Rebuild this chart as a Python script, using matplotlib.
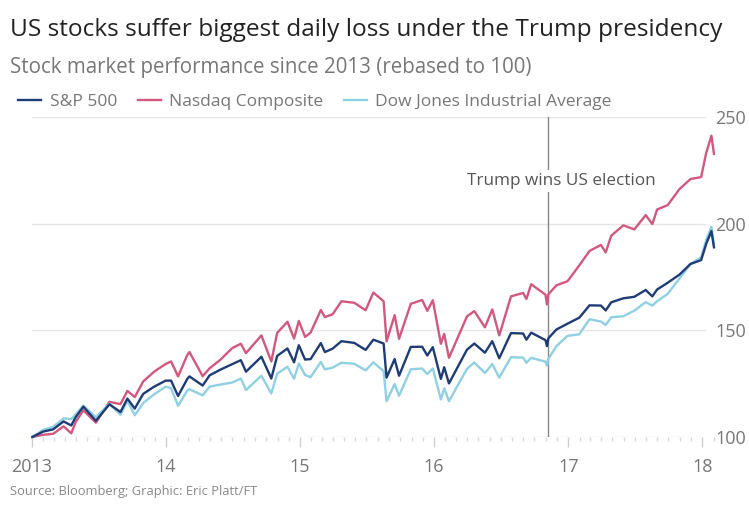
import matplotlib
matplotlib.use('Agg')
import matplotlib.pyplot as plt
import matplotlib.dates as mdates
import numpy as np
import pandas as pd

plt.rcParams['font.family'] = ['Open Sans', 'DejaVu Sans']

# rebased to 100 (2 Jan 2013)
dates = ['2013-01-02', '2013-01-31', '2013-02-28', '2013-03-28', '2013-04-18', '2013-04-30',
         '2013-05-21', '2013-06-24', '2013-07-31', '2013-08-30', '2013-09-18', '2013-10-08',
         '2013-10-31', '2013-11-29', '2013-12-31', '2014-01-15', '2014-02-03', '2014-02-28',
         '2014-03-06', '2014-04-11', '2014-04-30', '2014-05-30', '2014-06-30', '2014-07-24',
         '2014-08-07', '2014-09-18', '2014-10-15', '2014-10-31', '2014-11-28', '2014-12-16',
         '2014-12-29', '2015-01-15', '2015-01-30', '2015-02-27', '2015-03-10', '2015-03-31',
         '2015-04-24', '2015-05-29', '2015-06-29', '2015-07-20', '2015-08-17', '2015-08-25',
         '2015-09-16', '2015-09-28', '2015-10-30', '2015-11-30', '2015-12-14', '2015-12-29',
         '2016-01-20', '2016-01-29', '2016-02-11', '2016-03-31', '2016-04-20', '2016-05-19',
         '2016-06-08', '2016-06-27', '2016-07-29', '2016-08-31', '2016-09-09', '2016-09-22',
         '2016-10-31', '2016-11-04', '2016-11-08', '2016-11-30', '2016-12-30', '2017-01-31',
         '2017-02-28', '2017-03-31', '2017-04-13', '2017-04-28', '2017-05-31', '2017-06-30',
         '2017-07-31', '2017-08-18', '2017-08-31', '2017-09-29', '2017-10-31', '2017-11-30',
         '2017-12-29', '2018-01-12', '2018-01-26', '2018-02-02']

sp500 = [100, 102.5, 103.6, 107.3, 105.4, 109.3, 114.2, 107.6, 115.3, 111.7, 118.0, 113.3,
         120.2, 123.5, 126.4, 126.4, 119.2, 127.2, 128.4, 124.1, 128.9, 131.6, 134.1, 136.0,
         130.6, 137.6, 127.4, 138.0, 141.5, 135.0, 143.0, 136.3, 136.5, 144.0, 139.8, 141.4,
         144.9, 144.1, 140.8, 145.6, 143.8, 127.8, 136.5, 128.7, 142.2, 142.3, 138.2, 142.1,
         127.2, 132.7, 125.1, 140.9, 143.8, 139.5, 144.9, 136.9, 148.7, 148.5, 145.6, 148.9,
         145.4, 142.6, 146.3, 150.4, 153.1, 155.9, 161.7, 161.6, 159.3, 163.1, 165.0, 165.7,
         168.9, 165.9, 169.1, 172.3, 176.1, 181.1, 182.9, 190.6, 196.5, 188.9]

nasdaq = [100, 101.0, 101.5, 105.0, 101.7, 107.0, 112.5, 106.7, 116.5, 115.4, 121.6, 118.7,
          126.0, 130.5, 134.2, 135.4, 128.4, 138.4, 139.8, 128.5, 132.2, 136.3, 141.6, 143.7,
          139.3, 147.6, 135.4, 148.8, 154.0, 146.1, 154.4, 146.9, 148.9, 159.5, 156.2, 157.5,
          163.6, 162.9, 159.4, 167.7, 163.6, 144.8, 157.1, 146.0, 162.4, 164.2, 159.1, 164.1,
          143.7, 148.3, 137.1, 156.5, 159.0, 151.4, 159.8, 147.6, 165.9, 167.5, 164.7, 171.6,
          166.7, 162.1, 166.9, 171.1, 173.0, 180.4, 187.2, 190.0, 186.5, 194.3, 199.2, 197.3,
          204.0, 199.8, 206.6, 208.7, 216.2, 220.9, 221.8, 233.3, 241.2, 232.7]

dow = [100, 103.3, 104.8, 108.7, 108.4, 110.6, 114.7, 109.3, 115.6, 110.4, 116.9, 110.2,
       115.9, 119.9, 123.6, 122.9, 114.6, 121.7, 122.4, 119.5, 123.6, 124.6, 125.5, 127.4,
       122.0, 128.7, 120.4, 129.7, 132.9, 127.3, 134.5, 129.1, 128.0, 135.2, 131.7, 132.5,
       134.8, 134.3, 131.2, 135.0, 130.8, 116.8, 124.8, 119.3, 131.7, 132.1, 129.5, 132.1,
       117.6, 122.8, 116.8, 131.9, 134.9, 130.0, 134.2, 127.8, 137.4, 137.2, 134.8, 137.1,
       135.3, 133.4, 136.7, 142.6, 147.4, 148.1, 155.2, 154.1, 152.5, 156.1, 156.6, 159.2,
       163.2, 161.6, 163.6, 167.1, 174.3, 181.0, 184.3, 192.4, 198.5, 190.3]

election_date = '2016-11-08'
y_ticks = [100, 150, 200, 250]
year_ticks = ['2013-01-01', '2014-01-01', '2015-01-01', '2016-01-01', '2017-01-01', '2018-01-01']
year_labels = ['2013', '14', '15', '16', '17', '18']

c_sp = '#1f3c74'
c_nasdaq = '#d2587e'
c_dow = '#8fd0e2'
c_text = '#777777'
c_grid = '#e6e6e6'

x = pd.to_datetime(dates)

fig = plt.figure(figsize=(7.49, 5.05), dpi=100)
fig.patch.set_facecolor('white')
ax = fig.add_axes([0.0427, 0.1347, 0.912, 0.6337])

ax.plot(x, nasdaq, color=c_nasdaq, lw=1.7, label='Nasdaq Composite', clip_on=False, zorder=3)
ax.plot(x, dow, color=c_dow, lw=1.7, label='Dow Jones Industrial Average', clip_on=False, zorder=4)
ax.plot(x, sp500, color=c_sp, lw=1.7, label='S&P 500', clip_on=False, zorder=5)

ax.set_xlim(pd.Timestamp('2013-01-01'), pd.Timestamp('2018-02-05'))
ax.set_ylim(100, 250)

for v in y_ticks:
    ax.axhline(v, color=c_grid, lw=1, zorder=1, xmax=0.985)

ax.axvline(pd.Timestamp(election_date), color='#888888', lw=1, zorder=2)
ax.text(pd.Timestamp('2016-12-14'), 220, 'Trump wins US election', ha='center', va='center',
        fontsize=12.3, color='#555555', zorder=6,
        bbox=dict(facecolor='white', edgecolor='none', pad=2))

for s in ax.spines.values():
    s.set_visible(False)

ax.yaxis.tick_right()
ax.set_yticks(y_ticks)
ax.set_yticklabels([str(v) for v in y_ticks])
ax.tick_params(axis='y', length=0, pad=0, labelsize=13, labelcolor=c_text)

ax.set_xticks(pd.to_datetime(year_ticks))
ax.set_xticklabels(year_labels)
ax.xaxis.set_minor_locator(mdates.MonthLocator())
ax.tick_params(axis='x', which='major', length=7, width=1, color='#cfcfcf', pad=8,
               labelsize=13, labelcolor=c_text)
ax.tick_params(axis='x', which='minor', length=3, width=1, color='#d8d8d8')

handles, labels = ax.get_legend_handles_labels()
order = [2, 0, 1]
ax.legend([handles[i] for i in order], [labels[i] for i in order], ncol=3, frameon=False,
          loc='lower left', bbox_to_anchor=(-0.035, 0.99), fontsize=12.5, labelcolor=c_text,
          handlelength=1.3, handletextpad=0.5, columnspacing=1.2, borderaxespad=0.2)

fig.text(0.013, 0.94, 'US stocks suffer biggest daily loss under the Trump presidency',
         fontsize=17.6, color='#222222', va='center', ha='left')
fig.text(0.013, 0.867, 'Stock market performance since 2013 (rebased to 100)',
         fontsize=14.8, color=c_text, va='center', ha='left')
fig.text(0.013, 0.027, 'Source: Bloomberg; Graphic: Eric Platt/FT',
         fontsize=9.3, color='#888888', va='center', ha='left')

fig.savefig('out.png', dpi=100, facecolor='white')
